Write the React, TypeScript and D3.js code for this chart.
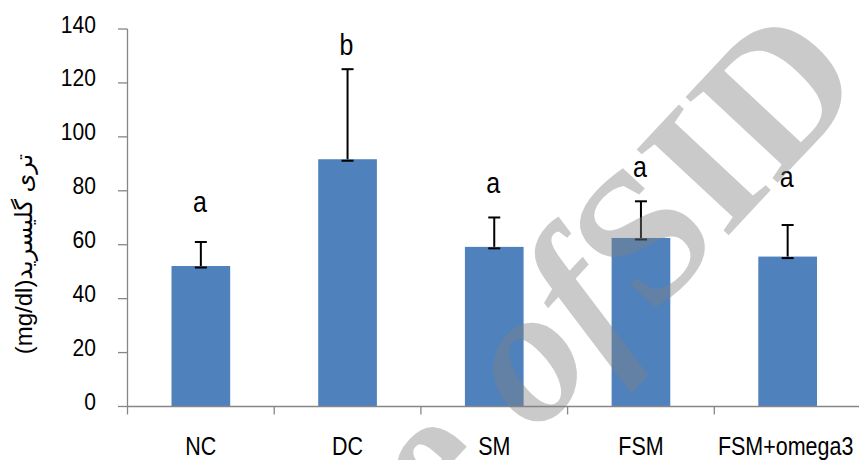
import * as d3 from 'd3';

// triglyceride by group
const groups = ['NC', 'DC', 'SM', 'FSM', 'FSM+omega3'];
const means = [52.1, 91.7, 59.2, 62.5, 55.6];
const errors = [8.9, 33.4, 10.9, 13.6, 11.7];
const letters = ['a', 'b', 'a', 'a', 'a'];
// where the significance letters sit, in mg/dl
const letterAt = [72.2, 130.3, 79.1, 85.0, 81.3];
const yTicks = [0, 20, 40, 60, 80, 100, 120, 140];

const W = 859;
const H = 460;
const margin = { left: 127.5, right: -2, top: 29, bottom: 53.5 };
const font = "'Liberation Sans', Arial, 'DejaVu Sans', sans-serif";
const axisColor = '#868686';

// narrow sans: squeeze Liberation Sans horizontally
function Narrow(props: { x: number; y: number; size: number; anchor?: string; children: any }) {
  return (
    <text
      transform={`translate(${props.x},${props.y}) scale(0.86,1)`}
      textAnchor={props.anchor || 'middle'}
      fontFamily={font}
      fontSize={props.size}
      fill="#000"
    >{props.children}</text>
  );
}

export default function App() {
  const x = d3.scaleBand<string>()
    .domain(groups)
    .range([margin.left, W - margin.right]);
  const y = d3.scaleLinear()
    .domain([0, 140])
    .range([H - margin.bottom, margin.top]);

  const barW = x.bandwidth() * 0.4;
  const y0 = y(0);
  const edges = groups.map(g => x(g)!).concat([x(groups[groups.length - 1])! + x.bandwidth()]);

  return (
    <svg width={W} height={H} style={{ position: 'absolute', left: 0, top: 0, background: '#fff' }}>
      {/* y axis */}
      <line x1={margin.left} x2={margin.left} y1={y(140)} y2={y0} stroke={axisColor} strokeWidth={1.3} />
      {yTicks.map(t => (
        <g key={t}>
          <line x1={margin.left - 9.5} x2={margin.left} y1={y(t)} y2={y(t)} stroke={axisColor} strokeWidth={1.3} />
          <Narrow x={96} y={y(t) + 3.5} size={24.5} anchor="end">{t}</Narrow>
        </g>
      ))}
      <text
        transform={`translate(32,254) rotate(-90)`}
        textAnchor="middle"
        fontFamily={font}
        fontSize={24}
        fill="#000"
      >(mg/dl)تری گلیسرید</text>

      {/* bars */}
      {groups.map((g, i) => {
        const cx = x(g)! + x.bandwidth() / 2;
        return (
          <g key={g}>
            <rect x={cx - barW / 2} y={y(means[i])} width={barW} height={y0 - y(means[i])} fill="#4f81bd" />
            <line x1={cx} x2={cx} y1={y(means[i])} y2={y(means[i] + errors[i])} stroke="#000" strokeWidth={2} />
            <line x1={cx - 6} x2={cx + 6} y1={y(means[i] + errors[i])} y2={y(means[i] + errors[i])} stroke="#000" strokeWidth={2} />
            <line x1={cx - 6} x2={cx + 6} y1={y(means[i]) + 1.5} y2={y(means[i]) + 1.5} stroke="#000" strokeWidth={2} />
            <Narrow x={cx - 1} y={y(letterAt[i])} size={29}>{letters[i]}</Narrow>
            <Narrow x={i === groups.length - 1 ? cx - 2 : cx} y={455} size={25}>{g}</Narrow>
          </g>
        );
      })}

      {/* x axis */}
      <line x1={margin.left} x2={W} y1={y0} y2={y0} stroke={axisColor} strokeWidth={1.3} />
      {edges.map((e, i) => (
        <line key={i} x1={e} x2={e} y1={y0} y2={y0 + 8} stroke={axisColor} strokeWidth={1.3} />
      ))}

      {/* archive watermark over the page */}
      <g transform="translate(536,436) rotate(-47)" fill="#808080" fillOpacity={0.42} fontFamily="'Liberation Serif', 'DejaVu Serif', serif" fontWeight="bold" fontSize={192}>
        <text x={-50} textAnchor="end">Archive</text>
        <text x={0} fontStyle="italic">of</text>
        <text x={165} y={4}>SID</text>
      </g>
    </svg>
  );
}
